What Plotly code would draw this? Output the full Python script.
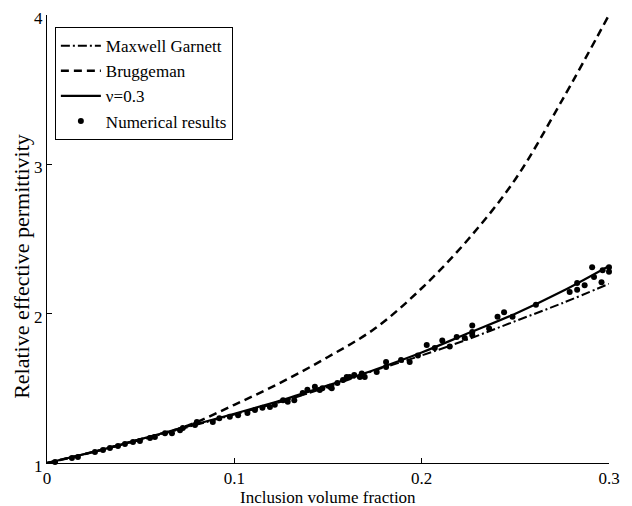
import plotly.graph_objects as go

# Curve samples
curve_x = [0.0, 0.025, 0.05, 0.075, 0.1, 0.125, 0.15, 0.175, 0.2, 0.225, 0.25, 0.275, 0.3]
maxwell_garnett = [1.0, 1.075, 1.155, 1.24, 1.325, 1.41, 1.51, 1.62, 1.72, 1.83, 1.95, 2.07, 2.2]
bruggeman = [1.0, 1.075, 1.16, 1.25, 1.39, 1.54, 1.71, 1.90, 2.17, 2.50, 2.90, 3.43, 4.0]
nu_03 = [1.0, 1.075, 1.16, 1.245, 1.33, 1.42, 1.52, 1.625, 1.74, 1.87, 2.0, 2.15, 2.32]

# Numerical results (scattered points)
num_x = [0.0043, 0.0133, 0.0165, 0.0256, 0.0299, 0.0336, 0.0379, 0.0416, 0.0459, 0.0496,
         0.055, 0.0576, 0.063, 0.0667, 0.071, 0.0725, 0.079, 0.080, 0.0885, 0.092,
         0.0976, 0.102, 0.107, 0.111, 0.115, 0.119, 0.1216, 0.126, 0.1285, 0.132,
         0.1365, 0.139, 0.143, 0.1456, 0.147, 0.151, 0.152, 0.155, 0.158, 0.160,
         0.1616, 0.164, 0.167, 0.168, 0.1696, 0.176, 0.181, 0.181, 0.189, 0.1936,
         0.198, 0.2027, 0.207, 0.211, 0.215, 0.2187, 0.223, 0.227, 0.227, 0.227,
         0.236, 0.2405, 0.244, 0.2485, 0.261, 0.279, 0.283, 0.283, 0.287, 0.291,
         0.292, 0.296, 0.2966, 0.300, 0.300]
num_y = [1.007, 1.033, 1.04, 1.074, 1.087, 1.10, 1.114, 1.127, 1.14, 1.147,
         1.167, 1.174, 1.20, 1.20, 1.22, 1.234, 1.255, 1.275, 1.275, 1.30,
         1.31, 1.32, 1.335, 1.355, 1.37, 1.375, 1.39, 1.42, 1.41, 1.42,
         1.469, 1.49, 1.51, 1.489, 1.50, 1.51, 1.50, 1.536, 1.556, 1.576,
         1.576, 1.59, 1.576, 1.60, 1.576, 1.61, 1.676, 1.643, 1.69, 1.676,
         1.72, 1.79, 1.77, 1.82, 1.78, 1.844, 1.837, 1.92, 1.877, 1.857,
         1.90, 1.98, 2.01, 1.98, 2.06, 2.145, 2.205, 2.16, 2.19, 2.31,
         2.245, 2.21, 2.29, 2.31, 2.28]

x_ticks = [0, 0.1, 0.2, 0.3]
x_tick_labels = ["0", "0.1", "0.2", "0.3"]
y_ticks = [1, 2, 3, 4]
y_tick_labels = ["1", "2", "3", "4"]
x_title = "Inclusion volume fraction"
y_title = "Relative effective permittivity"

FONT = "Liberation Serif"

fig = go.Figure()
fig.add_trace(go.Scatter(x=curve_x, y=maxwell_garnett, mode="lines", name="Maxwell Garnett",
                         line=dict(color="black", width=2, dash="9px,3px,2px,3px"),
                         line_shape="spline"))
fig.add_trace(go.Scatter(x=curve_x, y=bruggeman, mode="lines", name="Bruggeman",
                         line=dict(color="black", width=2.5, dash="8px,5px"),
                         line_shape="spline"))
fig.add_trace(go.Scatter(x=curve_x, y=nu_03, mode="lines", name="ν=0.3",
                         line=dict(color="black", width=2.2),
                         line_shape="spline"))
fig.add_trace(go.Scatter(x=num_x, y=num_y, mode="markers", name="Numerical results",
                         marker=dict(color="black", size=6), cliponaxis=False))

fig.update_layout(
    width=624, height=498,
    margin=dict(l=39, r=23, t=7, b=43, autoexpand=False),
    paper_bgcolor="white", plot_bgcolor="white",
    font=dict(family=FONT, size=17, color="black"),
    showlegend=True,
    legend=dict(x=0.014, y=0.973, xanchor="left", yanchor="top",
                bordercolor="black", borderwidth=1, bgcolor="white",
                font=dict(family=FONT, size=17, color="black"),
                tracegroupgap=0, itemwidth=40),
    xaxis=dict(range=[0, 0.3], tickvals=x_ticks, ticktext=x_tick_labels,
               showgrid=False, zeroline=False, showline=True, linecolor="black", linewidth=1,
               ticks="inside", ticklen=5, tickcolor="black", automargin=False,
               ticklabeloverflow="allow", tickfont=dict(family=FONT, size=17)),
    yaxis=dict(range=[1, 4], tickvals=y_ticks, ticktext=y_tick_labels,
               showgrid=False, zeroline=False, showline=True, linecolor="black", linewidth=1,
               ticks="inside", ticklen=5, tickcolor="black", automargin=False,
               ticklabeloverflow="allow", ticklabelshift=3,
               tickfont=dict(family=FONT, size=17)),
    annotations=[
        dict(text=x_title, xref="paper", yref="paper", x=0.5, y=-0.076,
             xanchor="center", yanchor="middle", showarrow=False,
             font=dict(family=FONT, size=17)),
        dict(text=y_title, xref="paper", yref="paper", x=-0.0445, y=0.44,
             xanchor="center", yanchor="middle", textangle=-90, showarrow=False,
             font=dict(family=FONT, size=22)),
    ],
)

fig.write_html("out.html")
